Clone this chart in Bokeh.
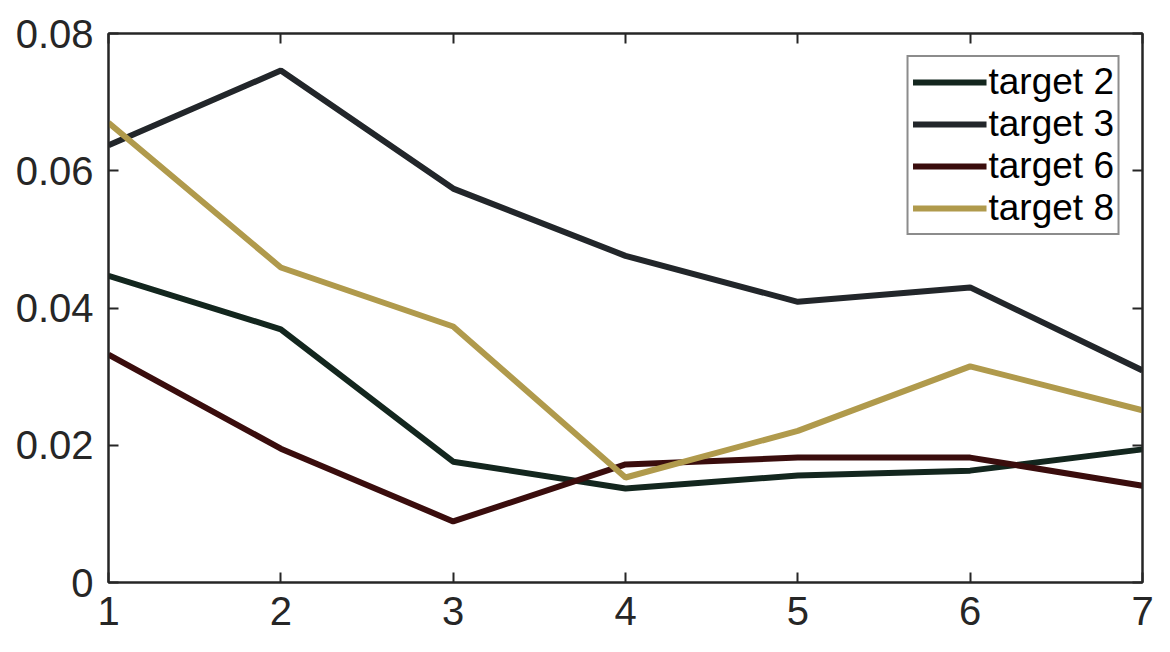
from bokeh.plotting import figure
from bokeh.models import LinearAxis, Range1d, Legend, LegendItem, FixedTicker, CustomJSTickFormatter
from bokeh.embed import file_html
from bokeh.resources import INLINE

x = [1, 2, 3, 4, 5, 6, 7]
target2 = [0.0447, 0.0369, 0.0176, 0.0137, 0.0156, 0.0163, 0.0194]
target3 = [0.0637, 0.0746, 0.0574, 0.0476, 0.0409, 0.0430, 0.0309]
target6 = [0.0332, 0.0195, 0.0089, 0.0172, 0.0182, 0.0182, 0.0141]
target8 = [0.0670, 0.0459, 0.0373, 0.0153, 0.0221, 0.0315, 0.0251]
names = ["target 2", "target 3", "target 6", "target 8"]
colors = ["#13261e", "#22262a", "#3a0d0d", "#b09a4c"]
xticks = [1, 2, 3, 4, 5, 6, 7]
yticks = [0, 0.02, 0.04, 0.06, 0.08]
ylabels = {0: "0", 0.02: "0.02", 0.04: "0.04", 0.06: "0.06", 0.08: "0.08"}

FONT = "Liberation Sans"

p = figure(width=1170, height=652, output_backend="svg", toolbar_location=None,
           x_range=Range1d(1, 7), y_range=Range1d(0, 0.08),
           min_border_left=108, min_border_right=28, min_border_top=33, min_border_bottom=70,
           x_axis_location=None, y_axis_location=None)
p.xgrid.visible = False
p.ygrid.visible = False
p.outline_line_color = "#262626"
p.outline_line_width = 2
p.background_fill_color = "white"
p.border_fill_color = "white"

def style_axis(ax, labels=True):
    ax.axis_line_color = "#262626"
    ax.axis_line_width = 2
    ax.major_tick_in = 10
    ax.major_tick_out = 0
    ax.major_tick_line_color = "#262626"
    ax.major_tick_line_width = 2
    ax.minor_tick_line_color = None
    ax.major_label_text_font = FONT
    ax.major_label_text_font_size = "40px"
    ax.major_label_text_color = "#262626"
    if not labels:
        ax.formatter = CustomJSTickFormatter(code="return ''")

xb = LinearAxis(ticker=FixedTicker(ticks=xticks))
style_axis(xb)
xb.major_label_standoff = 14
p.add_layout(xb, "below")
yl = LinearAxis(ticker=FixedTicker(ticks=yticks))
style_axis(yl)
yl.major_label_overrides = ylabels
yl.major_label_standoff = 15
p.add_layout(yl, "left")
yr = LinearAxis(ticker=FixedTicker(ticks=yticks))
style_axis(yr, labels=False)
p.add_layout(yr, "right")
xt = LinearAxis(ticker=FixedTicker(ticks=xticks))
style_axis(xt, labels=False)
p.add_layout(xt, "above")

items = []
for name, ys, c in zip(names, [target2, target3, target6, target8], colors):
    r = p.line(x, ys, line_color=c, line_width=6)
    items.append(LegendItem(label=name, renderers=[r]))

legend = Legend(items=items, location="top_right")
legend.margin = 22
legend.label_text_font = FONT
legend.label_text_font_size = "37px"
legend.label_text_color = "black"
legend.glyph_width = 74
legend.glyph_height = 38
legend.label_height = 38
legend.spacing = 0
legend.padding = 4
legend.label_standoff = 2
legend.border_line_color = "#1a1a1a"
legend.border_line_width = 2.5
legend.background_fill_alpha = 1
p.add_layout(legend, "center")

open("out.html", "w").write(file_html(p, INLINE))
